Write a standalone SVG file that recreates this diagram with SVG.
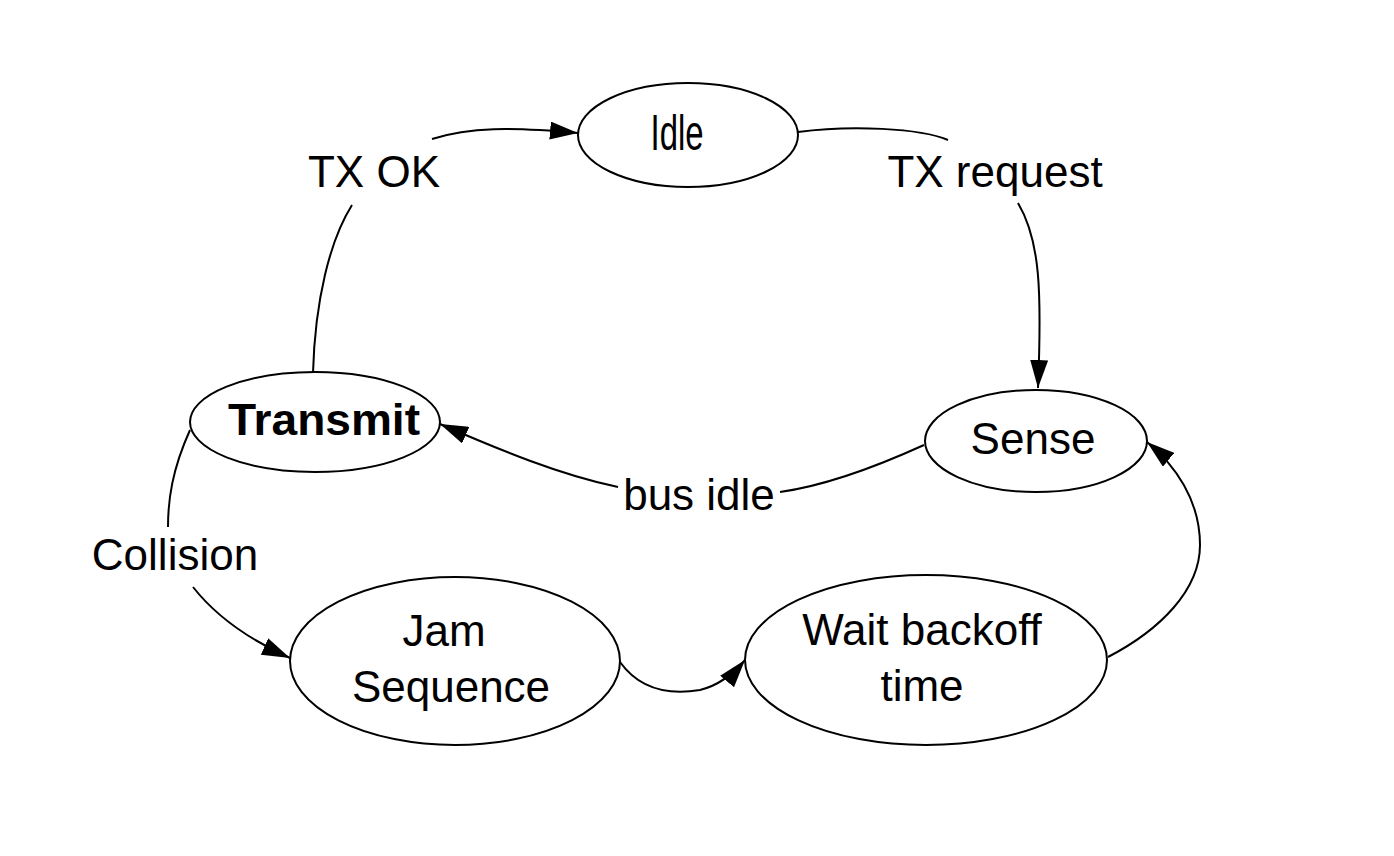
<svg xmlns="http://www.w3.org/2000/svg" width="1394" height="856" viewBox="0 0 1394 856">
<style>
.n{fill:#fff;stroke:#000;stroke-width:2}
.t{font-family:"Liberation Sans",Arial,sans-serif;font-size:44px;fill:#000;text-anchor:middle}
.e{fill:none;stroke:#000;stroke-width:2}
</style>
<defs>
<marker id="a" markerUnits="userSpaceOnUse" markerWidth="28" markerHeight="18" refX="28" refY="9" orient="auto">
<path d="M0,0 L28,9 L0,18 Z" fill="#000"/>
</marker>
</defs>
<rect width="1394" height="856" fill="#fff"/>
<g id="connectors">
<path class="e" d="M313,373 C315,300 330,240 352,205"/>
<path class="e" d="M432,139 C470,127 510,127 578,133" marker-end="url(#a)"/>
<path class="e" d="M798,132 C850,125 920,128 948,140"/>
<path class="e" d="M1018,203 C1040,240 1042,290 1038,388" marker-end="url(#a)"/>
<path class="e" d="M924,445 C880,465 830,485 780,492"/>
<path class="e" d="M618,487 C560,475 500,450 440,424" marker-end="url(#a)"/>
<path class="e" d="M190,430 C172,470 168,500 168,527"/>
<path class="e" d="M193,587 C215,615 250,640 290,658" marker-end="url(#a)"/>
<path class="e" d="M620,662 C640,690 670,695 700,690 C720,685 735,672 745,660" marker-end="url(#a)"/>
<path class="e" d="M1108,657 C1160,630 1200,590 1200,545 C1200,500 1175,465 1147,442" marker-end="url(#a)"/>
<text class="t" x="374" y="187">TX OK</text>
<text class="t" x="995" y="187">TX request</text>
<text class="t" x="699" y="510">bus idle</text>
<text class="t" x="175" y="570">Collision</text>
</g>
<g id="idle">
<ellipse class="n" cx="688" cy="135" rx="110" ry="52"/>
<text class="t" x="677" y="150" style="font-size:50px" textLength="53" lengthAdjust="spacingAndGlyphs">Idle</text>
</g>
<g id="transmit">
<ellipse class="n" cx="315" cy="422" rx="125" ry="50"/>
<text class="t" x="324" y="435" font-weight="bold" textLength="192" lengthAdjust="spacingAndGlyphs">Transmit</text>
</g>
<g id="sense">
<ellipse class="n" cx="1036" cy="441" rx="111" ry="51"/>
<text class="t" x="1033" y="454">Sense</text>
</g>
<g id="jam">
<ellipse class="n" cx="455" cy="661" rx="165" ry="84"/>
<text class="t" x="444" y="646">Jam</text>
<text class="t" x="451" y="702">Sequence</text>
</g>
<g id="wait">
<ellipse class="n" cx="926" cy="660" rx="181" ry="85"/>
<text class="t" x="922" y="645">Wait backoff</text>
<text class="t" x="922" y="701">time</text>
</g>
</svg>
